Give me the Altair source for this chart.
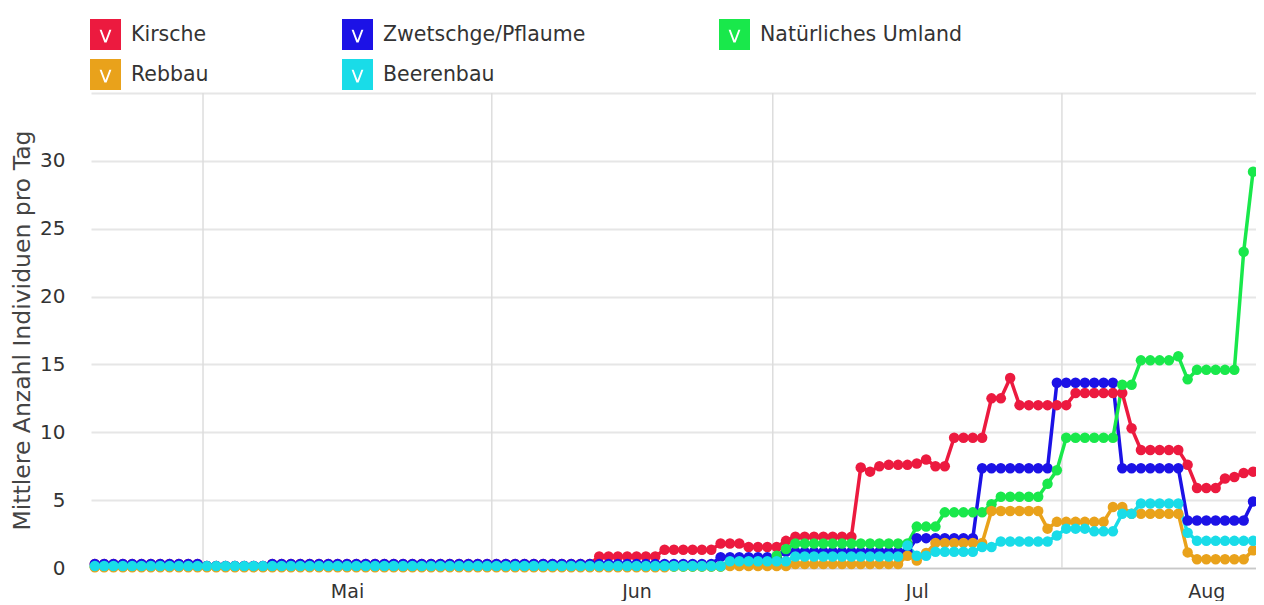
import altair as alt
import pandas as pd

series_names = ["Kirsche", "Zwetschge/Pflaume", "Natürliches Umland", "Rebbau", "Beerenbau"]
series_colors = ["#ec1a3f", "#1c12e6", "#19e84b", "#e9a21b", "#19dce8"]

start_date = "2021-04-04"   # first daily value
n_days = 126                # 4 Apr .. 7 Aug

# daily values, grouped: Apr 4-30 | May | Jun | Jul | Aug 1-7
kirsche = (
    [0.3] * 12 + [0.15] * 7 + [0.3] * 8
    + [0.3] * 27 + [0.85] * 4
    + [0.85, 0.85, 0.85, 1.35, 1.35, 1.35, 1.35, 1.35, 1.35, 1.8, 1.8, 1.8, 1.55, 1.55, 1.55, 1.55,
       2.0, 2.3, 2.3, 2.3, 2.3, 2.3, 2.3, 2.3, 7.4, 7.1, 7.5, 7.6, 7.6, 7.6]
    + [7.7, 8.0, 7.5, 7.5, 9.6, 9.6, 9.6, 9.6, 12.5, 12.5, 14.0, 12.0, 12.0, 12.0, 12.0, 12.0, 12.0,
       12.9, 12.9, 12.9, 12.9, 12.9, 12.9, 10.3, 8.7, 8.7, 8.7, 8.7, 8.7, 7.6, 5.9]
    + [5.9, 5.9, 6.6, 6.7, 7.0, 7.1, 7.1]
)
zwetschge = (
    [0.3] * 12 + [0.15] * 7 + [0.3] * 8
    + [0.3] * 31
    + [0.3] * 9 + [0.8] * 7
    + [1.2, 1.2, 1.2, 1.2, 1.2, 1.2, 1.2, 1.2, 1.2, 1.2, 1.2, 1.2, 1.2, 1.2]
    + [2.2, 2.2, 2.2, 2.2, 2.2, 2.2, 2.2, 7.35, 7.35, 7.35, 7.35, 7.35, 7.35, 7.35, 7.35,
       13.65, 13.65, 13.65, 13.65, 13.65, 13.65, 13.65, 7.35, 7.35, 7.35, 7.35, 7.35, 7.35, 7.35,
       3.5, 3.5]
    + [3.5, 3.5, 3.5, 3.5, 3.5, 4.9, 4.9]
)
umland = (
    [0.1] * 27
    + [0.1] * 31
    + [0.1] * 10 + [0.45, 0.45, 0.45, 0.45, 0.45, 0.9, 1.4]
    + [1.8, 1.8, 1.8, 1.8, 1.8, 1.8, 1.8, 1.8, 1.8, 1.8, 1.8, 1.8, 1.8]
    + [3.05, 3.05, 3.05, 4.1, 4.1, 4.1, 4.1, 4.1, 4.7, 5.25, 5.25, 5.25, 5.25, 5.25, 6.2, 7.2,
       9.6, 9.6, 9.6, 9.6, 9.6, 9.6, 13.5, 13.5, 15.3, 15.3, 15.3, 15.3, 15.6, 13.9, 14.6]
    + [14.6, 14.6, 14.6, 14.6, 23.3, 29.2, 29.2]
)
rebbau = (
    [0.05] * 27
    + [0.05] * 31
    + [0.05] * 4 + [0.12] * 6 + [0.15] * 7
    + [0.3, 0.3, 0.3, 0.3, 0.3, 0.3, 0.3, 0.3, 0.3, 0.3, 0.3, 0.3, 0.9]
    + [0.55, 1.1, 1.85, 1.85, 1.85, 1.85, 1.85, 1.85, 4.2, 4.2, 4.2, 4.2, 4.2, 4.2, 2.9,
       3.4, 3.4, 3.4, 3.4, 3.4, 3.4, 4.5, 4.5, 4.0, 4.0, 4.0, 4.0, 4.0, 4.0, 1.15, 0.65]
    + [0.65, 0.65, 0.65, 0.65, 0.65, 1.3, 1.3]
)
beerenbau = (
    [0.15] * 27
    + [0.15] * 31
    + [0.15] * 10 + [0.5] * 7
    + [0.85, 0.85, 0.85, 0.85, 0.85, 0.85, 0.85, 0.85, 0.85, 0.85, 0.85, 0.85, 1.65]
    + [0.9, 0.9, 1.2, 1.2, 1.2, 1.2, 1.2, 1.55, 1.55, 1.95, 1.95, 1.95, 1.95, 1.95, 1.95, 2.4,
       2.9, 2.9, 2.9, 2.7, 2.7, 2.7, 4.0, 4.0, 4.75, 4.75, 4.75, 4.75, 4.75, 2.6, 2.0]
    + [2.0, 2.0, 2.0, 2.0, 2.0, 2.0, 2.0]
)

month_names = ["Jan", "Feb", "Mär", "Apr", "Mai", "Jun", "Jul", "Aug", "Sep", "Okt", "Nov", "Dez"]
month_ticks = [(2021, 5, 1), (2021, 6, 1), (2021, 7, 1), (2021, 8, 1)]
grid_dates = ["2021-04-15T14:00:00Z", "2021-05-16T12:00:00Z", "2021-06-15T14:00:00Z", "2021-07-16T13:00:00Z"]
y_ticks = [0, 5, 10, 15, 20, 25, 30, 35]
y_title = "Mittlere Anzahl Individuen pro Tag"

# ---- build table ----
dates = list(pd.date_range(start_date, periods=n_days, freq="D").strftime("%Y-%m-%d"))
rows = []
for name, vals in zip(series_names, [kirsche, zwetschge, umland, rebbau, beerenbau]):
    assert len(vals) == n_days, (name, len(vals))
    for d, v in zip(dates, vals):
        rows.append({"date": d, "series": name, "value": v})
df = pd.DataFrame(rows)
grid_df = pd.DataFrame({"date": grid_dates})

FONT = "DejaVu Sans"
W, H = 1165, 475

x_scale = alt.Scale(
    type="utc",
    domain=[alt.DateTime(year=2021, month=4, date=3, hours=14, minutes=10, utc=True),
            alt.DateTime(year=2021, month=8, date=6, hours=7, minutes=40, utc=True)],
)
month_expr = "[" + ",".join("'%s'" % m for m in month_names) + "][utcmonth(datum.value)]"
x_axis = alt.Axis(
    values=[alt.DateTime(year=y, month=m, date=d, utc=True) for (y, m, d) in month_ticks],
    labelExpr=month_expr, grid=False, ticks=False, tickSize=0,
    domain=True, domainColor="#c8c8c8", domainWidth=1.5,
    labelFont=FONT, labelFontSize=19, labelColor="#333333", labelPadding=14,
    title=None,
)
x_enc = alt.X("date:T", scale=x_scale, axis=x_axis)

y_enc = alt.Y(
    "value:Q",
    scale=alt.Scale(domain=[0, 35], nice=False),
    axis=alt.Axis(
        values=y_ticks, labelExpr="datum.value == 35 ? '' : datum.value",
        grid=True, gridColor="#e6e6e6", gridWidth=2,
        ticks=False, tickSize=0, domain=False,
        labelFont=FONT, labelFontSize=20, labelColor="#333333", labelPadding=26,
        title=y_title, titleFont=FONT, titleFontSize=23.5, titleFontWeight="normal",
        titleColor="#444444", titleX=-69, titleY=237, titleAngle=270,
        titleAlign="center", titleBaseline="middle",
    ),
)

check_path = ("M-1,-1H1V1H-1Z "
              "M-0.38,-0.3L-0.07,0.52L0.07,0.52L0.38,-0.3L0.25,-0.3L0,0.36L-0.25,-0.3Z")
legend = alt.Legend(
    title=None, orient="none", legendX=-1, legendY=-74, columns=3,
    direction="horizontal",
    columnPadding=133, rowPadding=9, padding=0,
    symbolType=check_path, symbolSize=961, symbolStrokeWidth=0, symbolOpacity=1,
    labelFont=FONT, labelFontSize=20.5, labelColor="#333333", labelOffset=10, labelLimit=400,
)
color_enc = alt.Color(
    "series:N",
    scale=alt.Scale(domain=series_names, range=series_colors),
    legend=legend, sort=series_names,
)

grid_layer = alt.Chart(grid_df).mark_rule(color="#dddddd", strokeWidth=1.5).encode(x=x_enc)
dot_layer = alt.Chart(df).mark_circle(size=110, opacity=1).encode(x=x_enc, y=y_enc, color=color_enc)
line_layer = alt.Chart(df).mark_line(strokeWidth=3.5).encode(x=x_enc, y=y_enc, color=color_enc)

chart = (
    alt.layer(grid_layer, line_layer, dot_layer)
    .properties(
        width=W, height=H,
        padding={"left": 83, "top": 85, "right": 0, "bottom": 33},
        autosize=alt.AutoSizeParams(type="none"),
        background="white",
    )
    .configure_view(stroke=None)
)

chart.save("out.html", embed_options={"renderer": "svg", "actions": False})
